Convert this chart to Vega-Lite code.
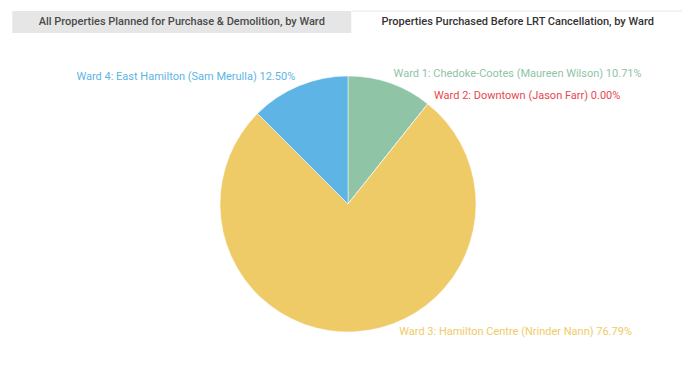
{
  "$schema": "https://vega.github.io/schema/vega-lite/v6.json",
  "padding": {"top": 10, "left": 12, "right": 0, "bottom": 0},
  "background": "#ffffff",
  "config": {"view": {"stroke": null}, "font": "Roboto"},
  "datasets": {
    "wards": [
      {"ward": "Ward 1", "value": 10.71, "label": "Ward 1: Chedoke-Cootes (Maureen Wilson) 10.71%"},
      {"ward": "Ward 2", "value": 0.0, "label": "Ward 2: Downtown (Jason Farr) 0.00%"},
      {"ward": "Ward 3", "value": 76.79, "label": "Ward 3: Hamilton Centre (Nrinder Nann) 76.79%"},
      {"ward": "Ward 4", "value": 12.5, "label": "Ward 4: East Hamilton (Sam Merulla) 12.50%"}
    ]
  },
  "spacing": 0,
  "center": true,
  "vconcat": [
    {
      "spacing": 0,
      "hconcat": [
        {
          "width": 339,
          "height": 22,
          "view": {"fill": "#e6e6e6", "stroke": null},
          "data": {"values": [{"tab": "All Properties Planned for Purchase & Demolition, by Ward"}]},
          "mark": {"type": "text", "font": "Roboto", "fontSize": 11, "fontWeight": 500, "color": "#4a4a4a", "baseline": "middle", "align": "center"},
          "encoding": {"text": {"field": "tab"}}
        },
        {
          "width": 331,
          "height": 22,
          "data": {"values": [{"tab": "Properties Purchased Before LRT Cancellation, by Ward", "edge": 1}]},
          "layer": [
            {
              "mark": {"type": "rule", "color": "#e6e6e6", "strokeWidth": 1},
              "encoding": {"y": {"field": "edge", "type": "quantitative", "scale": {"domain": [0, 1]}, "axis": null}}
            },
            {
              "mark": {"type": "text", "font": "Roboto", "fontSize": 11, "fontWeight": 500, "color": "#333333", "baseline": "middle", "align": "center"},
              "encoding": {"text": {"field": "tab"}}
            }
          ]
        }
      ]
    },
    {
      "width": 670,
      "height": 342,
      "data": {"name": "wards"},
      "encoding": {
        "theta": {"field": "value", "type": "quantitative", "stack": true},
        "color": {
          "field": "ward",
          "type": "nominal",
          "scale": {"domain": ["Ward 1", "Ward 2", "Ward 3", "Ward 4"], "range": ["#8fc4a6", "#e8484d", "#efcb68", "#5eb5e5"]},
          "legend": null
        }
      },
      "layer": [
        {"mark": {"type": "arc", "outerRadius": 128, "stroke": "#ffffff", "strokeWidth": 0.5}},
        {
          "mark": {"type": "text", "radius": 138, "align": "left", "baseline": "middle", "font": "Roboto", "fontSize": 11},
          "encoding": {"text": {"condition": {"test": "datum.ward === 'Ward 1' || datum.ward === 'Ward 2'", "field": "label"}, "value": ""}}
        },
        {
          "mark": {"type": "text", "radius": 138, "align": "right", "baseline": "middle", "font": "Roboto", "fontSize": 11},
          "encoding": {"text": {"condition": {"test": "datum.ward === 'Ward 4'", "field": "label"}, "value": ""}}
        },
        {
          "mark": {"type": "text", "radius": 128, "dx": 44, "align": "left", "baseline": "middle", "font": "Roboto", "fontSize": 11},
          "encoding": {"text": {"condition": {"test": "datum.ward === 'Ward 3'", "field": "label"}, "value": ""}}
        }
      ]
    }
  ]
}
